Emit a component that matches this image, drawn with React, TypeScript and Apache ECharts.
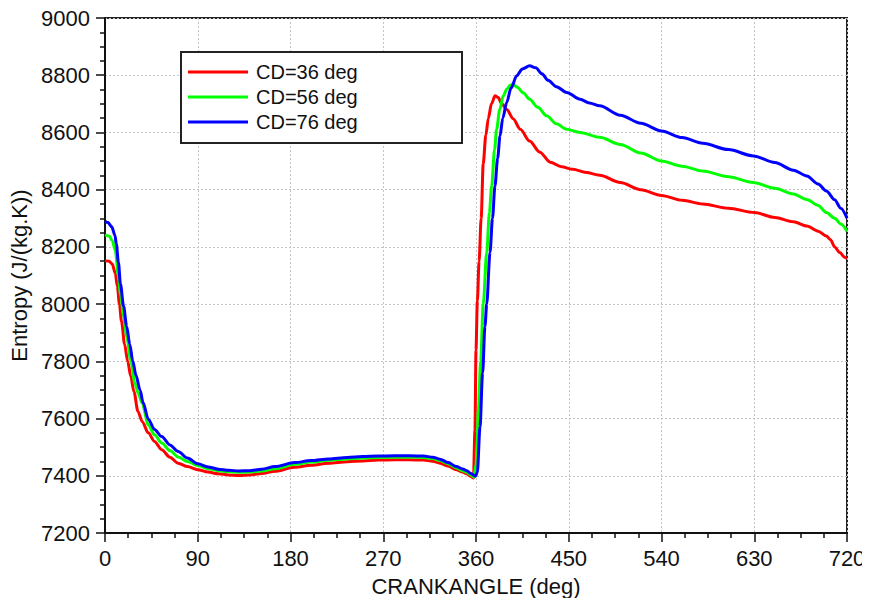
import React, { useEffect, useRef } from "react";
import * as echarts from "echarts";

// Crank angle (deg) and entropy (J/(kg.K)) for each cam duration setting
const angleCD36 = [0, 4, 7, 10, 12, 14, 16, 19, 22, 25, 28, 32, 36, 42, 48, 55, 63, 71, 80, 90, 100, 110, 120, 130, 140, 152, 165, 184, 200, 217, 235, 250, 265, 281, 295, 309, 318, 325, 333, 341, 347, 351, 355, 357.5, 359, 360, 361.3, 363, 365, 367, 369.5, 372, 375, 378.5, 381.5, 385, 390, 396, 403, 412, 422, 432, 443, 454, 467, 480, 500, 520, 540, 560, 580, 605, 630, 650, 668, 681, 692, 700, 704, 708, 713, 718, 720];
const entropyCD36 = [8152, 8150, 8140, 8108, 8062, 8000, 7940, 7860, 7800, 7748, 7695, 7625, 7590, 7550, 7520, 7491, 7465, 7444, 7432, 7421, 7413, 7407, 7403, 7401, 7403, 7408, 7416, 7430, 7437, 7444, 7449, 7452, 7455, 7456, 7456, 7455, 7451, 7444, 7434, 7421, 7413, 7407, 7398, 7392, 7560, 7840, 8010, 8150, 8300, 8490, 8590, 8650, 8700, 8728, 8722, 8700, 8680, 8648, 8611, 8570, 8531, 8496, 8480, 8471, 8460, 8450, 8425, 8400, 8380, 8363, 8350, 8335, 8320, 8303, 8288, 8273, 8255, 8238, 8225, 8200, 8180, 8163, 8160];

const angleCD56 = [0, 4, 7, 10, 13, 15, 18, 21, 25, 29, 32, 36, 42, 48, 55, 63, 71, 80, 90, 100, 110, 120, 130, 140, 152, 165, 184, 200, 217, 235, 250, 265, 281, 295, 309, 318, 325, 333, 341, 347, 351, 355, 358, 360, 360.6, 362.3, 364.5, 367, 370.4, 373, 375.2, 378, 380, 383, 386.5, 390, 393, 396, 400, 406, 412, 420, 428.6, 438, 448, 461, 480, 500, 520, 540, 560, 580, 605, 629, 650, 668, 681, 692, 700, 708, 714, 720];
const entropyCD56 = [8242, 8238, 8222, 8188, 8098, 8035, 7958, 7888, 7803, 7724, 7690, 7655, 7578, 7543, 7515, 7488, 7466, 7450, 7436, 7425, 7418, 7414, 7412, 7413, 7417, 7425, 7440, 7448, 7454, 7459, 7462, 7464, 7465, 7465, 7464, 7460, 7453, 7442, 7427, 7418, 7412, 7403, 7395, 7440, 7467, 7631, 7800, 8000, 8181, 8320, 8413, 8540, 8611, 8680, 8728, 8752, 8764, 8769, 8758, 8738, 8716, 8688, 8658, 8630, 8611, 8600, 8583, 8558, 8528, 8500, 8482, 8465, 8445, 8425, 8405, 8385, 8366, 8345, 8320, 8300, 8280, 8255];

const angleCD76 = [0, 3, 6.5, 9.7, 11, 13, 15, 18, 21, 24, 27, 30, 34, 37, 42, 48, 55, 63, 71, 80, 90, 100, 110, 120, 130, 140, 152, 165, 184, 200, 217, 235, 250, 265, 281, 295, 309, 318, 325, 333, 341, 347, 351, 355, 358, 359.5, 361.3, 363.9, 366.4, 368.7, 370.4, 373.6, 376, 378.4, 381, 383.3, 386, 389.8, 394, 399.5, 405, 412, 418, 424, 430, 438, 448, 461, 470, 480, 500, 520, 540, 560, 580, 605, 629, 650, 668, 681, 692, 700, 708, 714, 720];
const entropyCD76 = [8290, 8285, 8270, 8240, 8210, 8146, 8070, 7993, 7923, 7860, 7800, 7752, 7700, 7655, 7598, 7562, 7537, 7508, 7485, 7462, 7442, 7431, 7423, 7419, 7417, 7418, 7423, 7432, 7446, 7453, 7459, 7464, 7467, 7469, 7470, 7470, 7469, 7465, 7458, 7446, 7432, 7424, 7418, 7408, 7402, 7398, 7412, 7572, 7759, 7923, 8000, 8181, 8300, 8413, 8510, 8588, 8650, 8705, 8755, 8798, 8822, 8833, 8826, 8805, 8782, 8760, 8740, 8716, 8703, 8693, 8660, 8632, 8605, 8582, 8562, 8540, 8518, 8495, 8468, 8448, 8420, 8395, 8365, 8335, 8300];

const seriesNames = ["CD=36 deg", "CD=56 deg", "CD=76 deg"];
const seriesColors = ["#ff0000", "#00ff00", "#0000ff"];

const xTicks = { min: 0, max: 720, interval: 90 };
const yTicks = { min: 7200, max: 9000, interval: 200 };

const FONT = "'Liberation Sans', Arial, sans-serif";

function zip(xs: number[], ys: number[]) {
  return xs.map((x, i) => [x, ys[i]]);
}

export default function App() {
  const ref = useRef<HTMLDivElement>(null);

  useEffect(() => {
    if (!ref.current) return;
    const chart = echarts.init(ref.current, null, { renderer: "svg" });

    const curves = [
      zip(angleCD36, entropyCD36),
      zip(angleCD56, entropyCD56),
      zip(angleCD76, entropyCD76),
    ];

    const axisCommon = {
      axisLine: { show: true, onZero: false, lineStyle: { color: "#111", width: 2 } },
      axisTick: { show: true, inside: false, length: 9, lineStyle: { color: "#111", width: 1.5 } },
      minorTick: { show: true, splitNumber: 4, length: 5, lineStyle: { color: "#111", width: 1.5 } },
      splitLine: { show: true, lineStyle: { color: "#c4c4c4", type: [2, 2], width: 1 } },
      axisLabel: {
        color: "#111",
        fontSize: 22,
        fontFamily: FONT,
        margin: 14,
        formatter: (v: number) => String(v),
      },
      nameTextStyle: { color: "#111", fontSize: 22, fontFamily: FONT },
    };

    chart.setOption({
      animation: false,
      backgroundColor: "#ffffff",
      grid: {
        left: 105,
        right: 23,
        top: 18,
        bottom: 73,
        show: true,
        borderColor: "#222",
        borderWidth: 2,
        backgroundColor: "transparent",
      },
      xAxis: {
        type: "value",
        ...xTicks,
        ...axisCommon,
        name: "CRANKANGLE (deg)",
        nameLocation: "middle",
        nameGap: 42,
      },
      yAxis: {
        type: "value",
        ...yTicks,
        ...axisCommon,
        axisLabel: { ...axisCommon.axisLabel, margin: 15 },
        name: "Entropy (J/(kg.K))",
        nameLocation: "middle",
        nameGap: 68,
      },
      legend: {
        orient: "vertical",
        left: 188,
        top: 62,
        padding: 0,
        itemWidth: 60,
        itemHeight: 3,
        itemGap: 5,
        icon: "rect",
        z: 20,
        textStyle: {
          color: "#111",
          fontSize: 20,
          lineHeight: 20,
          fontFamily: FONT,
          padding: [0, 0, 0, 3],
        },
        data: seriesNames,
      },
      graphic: [
        {
          type: "rect",
          z: 15,
          shape: { x: 181, y: 52, width: 281, height: 91 },
          style: { fill: "#ffffff", stroke: "#222", lineWidth: 2 },
        },
      ],
      series: curves.map((data, i) => ({
        type: "line",
        name: seriesNames[i],
        data,
        showSymbol: false,
        smooth: 0.3,
        smoothMonotone: "x",
        lineStyle: { color: seriesColors[i], width: 3 },
        itemStyle: { color: seriesColors[i] },
        z: 3 + i,
      })),
    });

    return () => chart.dispose();
  }, []);

  return <div ref={ref} style={{ width: 870, height: 606, margin: -8 }} />;
}
